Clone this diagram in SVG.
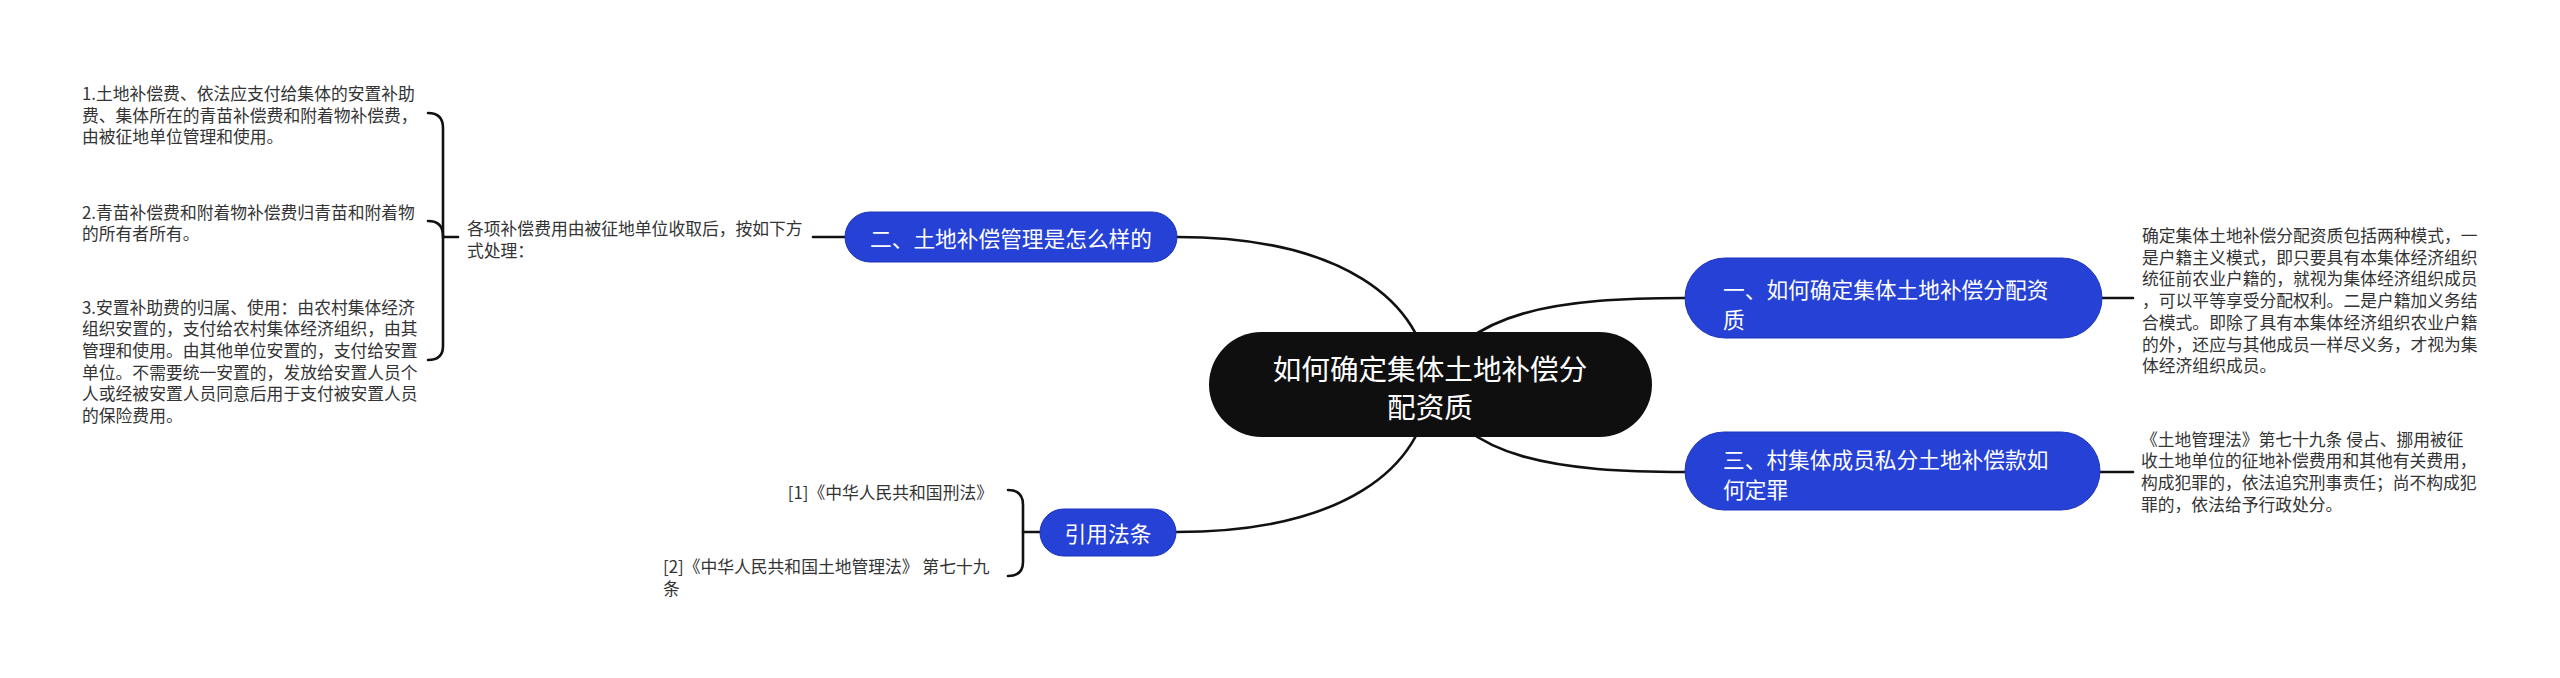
<svg xmlns="http://www.w3.org/2000/svg" width="2560" height="678" viewBox="0 0 2560 678">
<style>
text{font-family:"Noto Sans CJK SC","Noto Sans",sans-serif;dominant-baseline:central}
.small{font-size:16.8px;fill:#333}
.blue{fill:#2541d6;stroke:#1f35b8;stroke-width:1}
.bt{font-size:21.7px;fill:#fff}
.rt{font-size:28.6px;fill:#fff}
.ln{fill:none;stroke:#111;stroke-width:2.6;stroke-linecap:round}
</style>
<rect width="2560" height="678" fill="#fff"/>
<g id="connectors">
<path class="ln" d="M1177,237 C1340,237 1425,300 1430,385"/>
<path class="ln" d="M1430,385 C1465,310 1560,298 1685,298"/>
<path class="ln" d="M1430,385 C1465,460 1560,472 1685,472"/>
<path class="ln" d="M1176,532 C1340,532 1425,470 1430,385"/>
<path class="ln" d="M813,237 L845,237"/>
<path class="ln" d="M2102,298 L2133,298"/>
<path class="ln" d="M2100,472 L2133,472"/>
<path class="ln" d="M428,113 Q443,113 443,128 L443,346 Q443,360 428,360"/>
<path class="ln" d="M428,221 Q443,221 443,236"/>
<path class="ln" d="M443,237 L458,237"/>
<path class="ln" d="M1008,490 Q1023,490 1023,505 L1023,562 Q1023,576 1008,576"/>
<path class="ln" d="M1023,532 L1040,532"/>
</g>
<g id="root">
<rect x="1209" y="332" width="443" height="105" rx="52.5" fill="#0f0f0f"/>
<text class="rt" x="1430" y="367" text-anchor="middle">如何确定集体土地补偿分</text>
<text class="rt" x="1430" y="405" text-anchor="middle">配资质</text>
</g>
<g id="node-two">
<rect class="blue" x="845" y="212" width="332" height="50" rx="25"/>
<text class="bt" x="1011" y="237" text-anchor="middle">二、土地补偿管理是怎么样的</text>
</g>
<g id="node-two-desc">
<text class="small" x="467" y="228">各项补偿费用由被征地单位收取后，按如下方</text>
<text class="small" x="467" y="250">式处理：</text>
</g>
<g id="item-1">
<text class="small" x="82" y="93">1.土地补偿费、依法应支付给集体的安置补助</text>
<text class="small" x="82" y="115">费、集体所在的青苗补偿费和附着物补偿费，</text>
<text class="small" x="82" y="136">由被征地单位管理和使用。</text>
</g>
<g id="item-2">
<text class="small" x="82" y="212">2.青苗补偿费和附着物补偿费归青苗和附着物</text>
<text class="small" x="82" y="233">的所有者所有。</text>
</g>
<g id="item-3">
<text class="small" x="82" y="307">3.安置补助费的归属、使用：由农村集体经济</text>
<text class="small" x="82" y="328">组织安置的，支付给农村集体经济组织，由其</text>
<text class="small" x="82" y="350">管理和使用。由其他单位安置的，支付给安置</text>
<text class="small" x="82" y="372">单位。不需要统一安置的，发放给安置人员个</text>
<text class="small" x="82" y="393">人或经被安置人员同意后用于支付被安置人员</text>
<text class="small" x="82" y="415">的保险费用。</text>
</g>
<g id="node-one">
<rect class="blue" x="1685" y="258" width="417" height="80" rx="40"/>
<text class="bt" x="1723" y="288">一、如何确定集体土地补偿分配资</text>
<text class="bt" x="1723" y="318">质</text>
</g>
<g id="node-one-desc">
<text class="small" x="2142" y="235">确定集体土地补偿分配资质包括两种模式，一</text>
<text class="small" x="2142" y="257">是户籍主义模式，即只要具有本集体经济组织</text>
<text class="small" x="2142" y="278">统征前农业户籍的，就视为集体经济组织成员</text>
<text class="small" x="2142" y="300">，可以平等享受分配权利。二是户籍加义务结</text>
<text class="small" x="2142" y="322">合模式。即除了具有本集体经济组织农业户籍</text>
<text class="small" x="2142" y="344">的外，还应与其他成员一样尽义务，才视为集</text>
<text class="small" x="2142" y="365">体经济组织成员。</text>
</g>
<g id="node-three">
<rect class="blue" x="1685" y="432" width="415" height="78" rx="39"/>
<text class="bt" x="1723" y="458">三、村集体成员私分土地补偿款如</text>
<text class="bt" x="1723" y="488">何定罪</text>
</g>
<g id="node-three-desc">
<text class="small" x="2141" y="439">《土地管理法》第七十九条 侵占、挪用被征</text>
<text class="small" x="2141" y="460">收土地单位的征地补偿费用和其他有关费用，</text>
<text class="small" x="2141" y="482">构成犯罪的，依法追究刑事责任；尚不构成犯</text>
<text class="small" x="2141" y="504">罪的，依法给予行政处分。</text>
</g>
<g id="node-refs">
<rect class="blue" x="1040" y="509" width="136" height="47" rx="23.5"/>
<text class="bt" x="1108" y="532" text-anchor="middle">引用法条</text>
</g>
<g id="ref-1">
<text class="small" x="993" y="492" text-anchor="end">[1]《中华人民共和国刑法》</text>
</g>
<g id="ref-2">
<text class="small" x="663" y="566">[2]《中华人民共和国土地管理法》 第七十九</text>
<text class="small" x="663" y="588">条</text>
</g>
</svg>
